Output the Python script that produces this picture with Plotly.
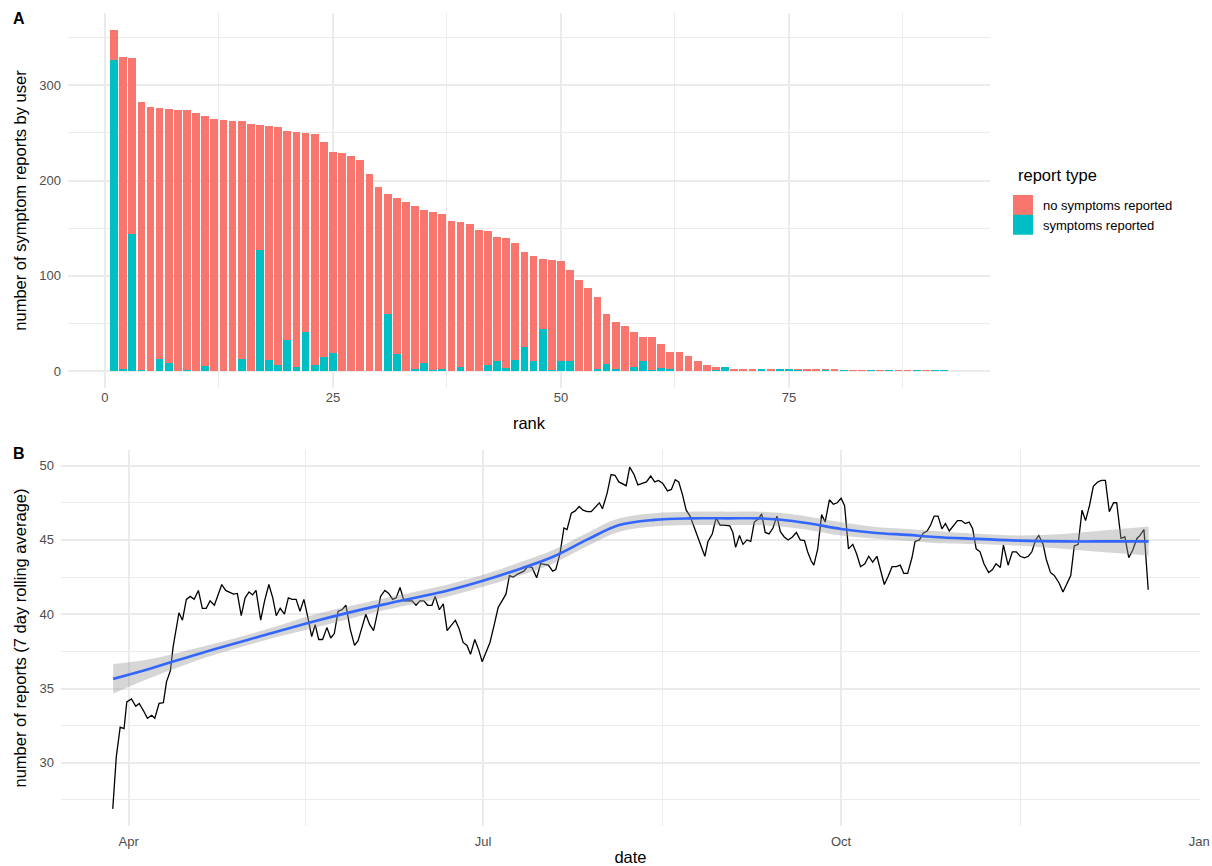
import pandas as pd
import plotly.graph_objects as go

# ---------------- Panel A data ----------------
rank = list(range(1, 93))
total_reports = [358, 330, 329, 282, 277, 276, 275, 274, 274, 271,
                 268, 265, 264, 262, 262, 259, 258, 257, 256, 252,
                 251, 250, 249, 240, 230, 229, 226, 222, 207, 193,
                 186, 182, 177, 173, 169, 167, 165, 157, 156, 154,
                 148, 147, 141, 140, 134, 125, 121, 118, 117, 115,
                 106, 96, 87, 78, 60, 51, 47, 41, 36, 36,
                 28, 20, 20, 16, 10, 6, 4, 4, 2, 2,
                 2, 2, 2, 2, 2, 2, 2, 2, 2, 2,
                 1, 1, 1, 1, 1, 1, 1, 1, 1, 1,
                 1, 1]
symptom_reports = [327, 2, 144, 1, 0, 13, 8, 0, 1, 0,
                   5, 0, 0, 0, 13, 0, 127, 12, 6, 32,
                   4, 41, 6, 15, 19, 0, 0, 0, 0, 0,
                   60, 18, 0, 2, 8, 1, 2, 0, 4, 0,
                   0, 6, 10, 3, 12, 25, 10, 44, 1, 10,
                   10, 0, 0, 2, 7, 2, 0, 4, 10, 1,
                   3, 2, 0, 0, 0, 0, 2, 4, 0, 0,
                   0, 2, 0, 2, 2, 1, 0, 0, 1, 0,
                   1, 0, 0, 1, 0, 1, 0, 0, 1, 0,
                   1, 1]
no_symptom_reports = [t - s for t, s in zip(total_reports, symptom_reports)]
report_types = ["no symptoms reported", "symptoms reported"]

# ---------------- Panel B data ----------------
# days relative to 2020-04-01, 7 day rolling average of reports
day_offset = [-4.1, -3.2, -2.2, -1.2, -0.5, 0.7, 1.8, 2.7, 3.8, 4.8,
              5.9, 6.7, 7.8, 8.9, 9.7, 10.7, 11.4, 12.3, 12.9, 13.8,
              14.8, 15.8, 16.8, 17.9, 18.9, 19.9, 20.9, 22.0, 23.0, 23.9,
              24.9, 25.9, 26.9, 27.9, 28.9, 29.9, 30.9, 31.8, 32.7, 33.9,
              34.9, 36.0, 37.0, 37.9, 38.9, 40.0, 41.0, 42.0, 43.0, 44.0,
              45.0, 46.0, 47.0, 47.9, 48.8, 49.8, 50.9, 51.9, 52.8, 53.8,
              54.8, 55.8, 56.9, 58.0, 58.9, 59.9, 60.9, 61.9, 62.9, 63.9,
              64.7, 65.8, 66.8, 67.8, 68.7, 69.7, 70.7, 71.8, 72.8, 73.8,
              74.8, 75.8, 76.8, 77.9, 78.7, 79.8, 80.8, 81.8, 82.9, 83.9,
              84.9, 85.9, 86.9, 87.8, 88.9, 89.9, 90.8, 91.8, 92.8, 93.9,
              94.9, 95.9, 96.9, 97.8, 98.8, 99.9, 100.6, 101.5, 102.5, 103.6,
              104.8, 105.8, 106.8, 107.8, 108.9, 109.7, 110.8, 111.8, 112.6, 113.7,
              114.7, 115.7, 116.7, 117.8, 118.8, 119.8, 120.9, 121.7, 122.9, 123.9,
              124.9, 125.9, 126.8, 127.8, 128.7, 129.8, 130.8, 132.0, 133.0, 134.1,
              135.1, 136.1, 137.2, 138.4, 139.4, 140.4, 141.3, 142.3, 143.2, 144.2,
              145.2, 146.3, 147.3, 148.0, 148.8, 149.9, 150.9, 151.9, 152.9, 154.4,
              155.2, 155.9, 156.9, 157.8, 158.8, 159.8, 160.7, 161.7, 162.6, 163.5,
              164.5, 165.5, 166.5, 167.4, 168.4, 169.4, 170.5, 171.5, 172.5, 173.6,
              174.4, 175.3, 176.0, 177.0, 178.0, 178.9, 180.0, 181.0, 182.0, 183.0,
              183.9, 184.9, 186.0, 187.0, 188.0, 189.1, 190.1, 191.1, 192.2, 193.0,
              194.1, 195.1, 196.1, 197.2, 198.2, 199.1, 200.1, 201.2, 202.0, 203.1,
              204.1, 205.1, 206.0, 206.9, 207.9, 208.9, 209.8, 210.8, 211.9, 212.9,
              213.9, 214.9, 215.9, 216.8, 217.7, 218.7, 219.7, 220.9, 221.9, 222.8,
              223.9, 224.7, 225.9, 227.0, 228.0, 229.0, 230.1, 231.1, 232.0, 233.0,
              233.8, 234.9, 235.7, 236.8, 237.8, 239.0, 240.0, 241.0, 242.0, 242.9,
              243.9, 244.9, 245.8, 246.8, 247.8, 248.9, 249.9, 250.9, 251.9, 253.0,
              253.8, 254.9, 255.9, 256.9, 257.9, 259.0, 259.8, 260.8, 261.9]
rolling_avg = [26.9, 30.4, 32.4, 32.3, 34.1, 34.3, 33.8, 34.0, 33.5, 33.0,
               33.2, 33.0, 34.0, 34.05, 35.45, 36.2, 37.8, 39.3, 40.1, 39.6,
               41.0, 41.2, 41.0, 41.6, 40.4, 40.4, 40.9, 40.6, 41.4, 42.0,
               41.6, 41.5, 41.35, 41.4, 39.9, 41.1, 41.5, 41.3, 41.6, 39.6,
               40.9, 42.0, 41.1, 39.9, 40.4, 40.0, 41.1, 41.0, 41.0, 40.2,
               41.0, 39.8, 38.5, 39.3, 38.3, 38.3, 39.1, 38.4, 38.7, 40.2,
               40.3, 40.6, 39.0, 37.9, 38.2, 39.1, 40.0, 39.3, 38.9, 40.1,
               41.2, 41.6, 41.4, 41.0, 41.1, 41.8, 40.9, 40.9, 40.9, 40.6,
               40.9, 40.9, 40.6, 40.6, 41.2, 40.3, 40.7, 38.9, 39.3, 39.6,
               39.0, 38.1, 37.9, 37.3, 38.3, 37.6, 36.8, 37.5, 38.1, 39.3,
               40.45, 40.9, 41.35, 42.6, 42.5, 42.7, 42.8, 42.9, 43.2, 43.15,
               42.45, 43.4, 43.35, 43.3, 42.9, 43.0, 44.1, 45.8, 45.7, 46.8,
               46.95, 47.25, 47.0, 46.9, 46.9, 47.2, 47.5, 47.1, 48.15, 49.4,
               49.35, 48.9, 48.8, 48.65, 49.9, 49.4, 48.7, 48.8, 48.9, 49.3,
               48.9, 49.0, 48.8, 48.3, 48.4, 49.05, 48.9, 48.0, 47.0, 46.6,
               45.9, 45.0, 44.4, 43.9, 44.9, 45.4, 46.5, 46.0, 46.0, 45.95,
               45.5, 44.5, 45.3, 44.7, 45.0, 44.9, 46.2, 46.4, 46.75, 45.5,
               45.4, 45.8, 46.6, 45.55, 45.2, 45.0, 45.2, 45.5, 45.0, 44.95,
               44.2, 43.6, 43.3, 44.4, 46.7, 46.2, 47.7, 47.4, 47.5, 47.8,
               47.3, 44.4, 44.7, 44.05, 43.2, 43.4, 43.9, 43.5, 43.9, 43.1,
               42.0, 42.55, 43.2, 43.2, 43.3, 42.75, 42.75, 43.8, 44.9, 45.0,
               45.45, 45.6, 46.0, 46.6, 46.6, 45.75, 46.1, 45.6, 46.0, 46.3,
               46.3, 46.1, 46.2, 45.75, 44.4, 44.2, 43.4, 42.8, 43.0, 43.4,
               43.15, 44.65, 43.3, 44.2, 44.2, 43.9, 43.8, 43.9, 44.2, 45.0,
               45.3, 44.7, 43.7, 42.8, 42.6, 42.1, 41.5, 42.0, 42.6, 44.6,
               44.7, 47.0, 46.3, 47.3, 48.6, 48.9, 49.0, 49.0, 46.9, 47.5,
               47.5, 45.1, 45.2, 43.8, 44.3, 45.1, 45.3, 45.7, 41.65]

smooth_day = [-4, 5, 20, 35, 48, 65, 82, 91, 101, 109, 118, 126, 135, 144,
              154, 162, 167, 175, 183, 192, 200, 207, 218, 229, 240, 249, 262]
smooth_fit = [35.65, 36.3, 37.5, 38.6, 39.55, 40.63, 41.6, 42.25, 43.1, 43.87,
              45.05, 46.0, 46.35, 46.45, 46.45, 46.45, 46.37, 46.1, 45.74, 45.47,
              45.34, 45.2, 45.07, 44.95, 44.9, 44.9, 44.9]
smooth_lo = [34.65, 35.65, 37.1, 38.25, 39.1, 40.23, 41.2, 41.85, 42.65, 43.42,
             44.6, 45.55, 45.9, 46.0, 46.0, 46.0, 45.92, 45.65, 45.29, 45.07,
             44.94, 44.8, 44.72, 44.6, 44.4, 44.2, 43.95]
smooth_hi = [36.65, 36.95, 37.9, 38.95, 40.0, 41.03, 42.0, 42.65, 43.55, 44.32,
             45.5, 46.45, 46.8, 46.9, 46.9, 46.9, 46.82, 46.55, 46.19, 45.87,
             45.74, 45.6, 45.42, 45.3, 45.4, 45.6, 45.9]

# ---------------- helpers ----------------
base = pd.Timestamp("2020-04-01")
dates = base + pd.to_timedelta(day_offset, unit="D")
smooth_dates = base + pd.to_timedelta(smooth_day, unit="D")

RED = "#F8766D"
TEAL = "#00BFC4"
GRID = "#EBEBEB"
FONT = "Liberation Sans, Arial, Helvetica, sans-serif"
TICKC = "#4D4D4D"

fig = go.Figure()

# Panel A: stacked bars (symptoms at the bottom)
fig.add_trace(go.Bar(x=rank, y=symptom_reports, name=report_types[1],
                     marker=dict(color=TEAL, line=dict(width=0)), width=0.85,
                     xaxis="x", yaxis="y", showlegend=False, legendgroup="s"))
fig.add_trace(go.Bar(x=rank, y=no_symptom_reports, name=report_types[0],
                     marker=dict(color=RED, line=dict(width=0)), width=0.85,
                     xaxis="x", yaxis="y", showlegend=False, legendgroup="n"))
# legend keys (large squares like ggplot keys)
fig.add_trace(go.Scatter(x=[None], y=[None], mode="markers", name=report_types[0],
                         marker=dict(symbol="square", size=16, color=RED,
                                     line=dict(color=RED, width=4)),
                         xaxis="x", yaxis="y", legendgroup="n", legendrank=1))
fig.add_trace(go.Scatter(x=[None], y=[None], mode="markers", name=report_types[1],
                         marker=dict(symbol="square", size=16, color=TEAL,
                                     line=dict(color=TEAL, width=4)),
                         xaxis="x", yaxis="y", legendgroup="s", legendrank=2))

# Panel B: rolling average line, loess band and fit
fig.add_trace(go.Scatter(x=dates, y=rolling_avg, mode="lines",
                         line=dict(color="black", width=1.3),
                         xaxis="x2", yaxis="y2", showlegend=False))
fig.add_trace(go.Scatter(x=smooth_dates, y=smooth_hi, mode="lines",
                         line=dict(width=0, shape="spline"),
                         xaxis="x2", yaxis="y2", showlegend=False, hoverinfo="skip"))
fig.add_trace(go.Scatter(x=smooth_dates, y=smooth_lo, mode="lines",
                         line=dict(width=0, shape="spline"), fill="tonexty",
                         fillcolor="rgba(153,153,153,0.4)",
                         xaxis="x2", yaxis="y2", showlegend=False, hoverinfo="skip"))
fig.add_trace(go.Scatter(x=smooth_dates, y=smooth_fit, mode="lines",
                         line=dict(color="#3366FF", width=2.6, shape="spline"),
                         xaxis="x2", yaxis="y2", showlegend=False))

# axis ranges (ggplot style 5% expansion)
xa_lo, xa_hi = 0.55, len(rank) + 0.45
xa_pad = 0.05 * (xa_hi - xa_lo)
ya_max = max(total_reports)
d_min, d_max = dates.min(), dates.max()
d_pad = (d_max - d_min) * 0.05
yb_lo = min(min(rolling_avg), min(smooth_lo))
yb_hi = max(max(rolling_avg), max(smooth_hi))
yb_pad = 0.05 * (yb_hi - yb_lo)

W, H = 1212, 866


def px_x(p):
    return min(p / W, 1.0)


def px_y(p):
    return 1 - p / H


axis_common = dict(showline=False, zeroline=False, ticks="", automargin=False,
                   gridcolor=GRID, gridwidth=1.8,
                   tickfont=dict(family=FONT, size=13, color=TICKC),
                   title_font=dict(family=FONT, size=16.5, color="black"))

fig.update_layout(
    width=W, height=H, autosize=False,
    margin=dict(l=0, r=0, t=0, b=0, autoexpand=False),
    paper_bgcolor="white", plot_bgcolor="white",
    barmode="stack", bargap=0,
    font=dict(family=FONT, color="black"),
    xaxis=dict(domain=[px_x(68), px_x(990)], anchor="y",
               range=[xa_lo - xa_pad, xa_hi + xa_pad],
               tickmode="array", tickvals=[0, 25, 50, 75],
               minor=dict(tickmode="array", tickvals=[12.5, 37.5, 62.5, 87.5],
                          showgrid=True, gridcolor=GRID, gridwidth=0.9),
               title=dict(text="rank", standoff=13), **axis_common),
    yaxis=dict(domain=[px_y(388), px_y(13)], anchor="x",
               range=[-0.05 * ya_max, 1.05 * ya_max],
               tickmode="array", tickvals=[0, 100, 200, 300],
               minor=dict(tickmode="array", tickvals=[50, 150, 250, 350],
                          showgrid=True, gridcolor=GRID, gridwidth=0.9),
               ticklabelstandoff=6,
               title=dict(text="number of symptom reports by user", standoff=8),
               **axis_common),
    xaxis2=dict(domain=[px_x(61), px_x(1200)], anchor="y2", type="date",
                range=[d_min - d_pad, d_max + d_pad],
                tickmode="array",
                tickvals=["2020-04-01", "2020-07-01", "2020-10-01", "2021-01-01"],
                ticktext=["Apr", "Jul", "Oct", "Jan"],
                minor=dict(tickmode="array",
                           tickvals=["2020-05-16 12:00", "2020-08-16", "2020-11-16"],
                           showgrid=True, gridcolor=GRID, gridwidth=0.9),
                ticklabelstandoff=6,
                title=dict(text="date", standoff=4), **axis_common),
    yaxis2=dict(domain=[px_y(826), px_y(450)], anchor="x2",
                range=[yb_lo - yb_pad, yb_hi + yb_pad],
                tickmode="array", tickvals=[30, 35, 40, 45, 50],
                minor=dict(tickmode="array", tickvals=[27.5, 32.5, 37.5, 42.5, 47.5],
                           showgrid=True, gridcolor=GRID, gridwidth=0.9),
                ticklabelstandoff=6,
                title=dict(text="number of reports (7 day rolling average)", standoff=8),
                **axis_common),
    legend=dict(x=px_x(1003), y=px_y(190), xanchor="left", yanchor="top",
                traceorder="normal",
                font=dict(family=FONT, size=13, color="black"),
                bgcolor="rgba(0,0,0,0)", tracegroupgap=4, itemsizing="trace"),
    annotations=[
        dict(text="report type", x=px_x(1016), y=px_y(175), xref="paper", yref="paper",
             xanchor="left", yanchor="middle", showarrow=False,
             font=dict(family=FONT, size=16.5, color="black")),
        dict(text="<b>A</b>", x=px_x(11), y=px_y(18), xref="paper", yref="paper",
             xanchor="left", yanchor="middle", showarrow=False,
             font=dict(family=FONT, size=16, color="black")),
        dict(text="<b>B</b>", x=px_x(11), y=px_y(453), xref="paper", yref="paper",
             xanchor="left", yanchor="middle", showarrow=False,
             font=dict(family=FONT, size=16, color="black")),
    ],
)

post = ("document.documentElement.style.overflow='hidden';"
        "document.body.style.margin='0';document.body.style.overflow='hidden';")

fig.write_html("out.html",
               config={"displayModeBar": False, "responsive": False},
               post_script=post)
